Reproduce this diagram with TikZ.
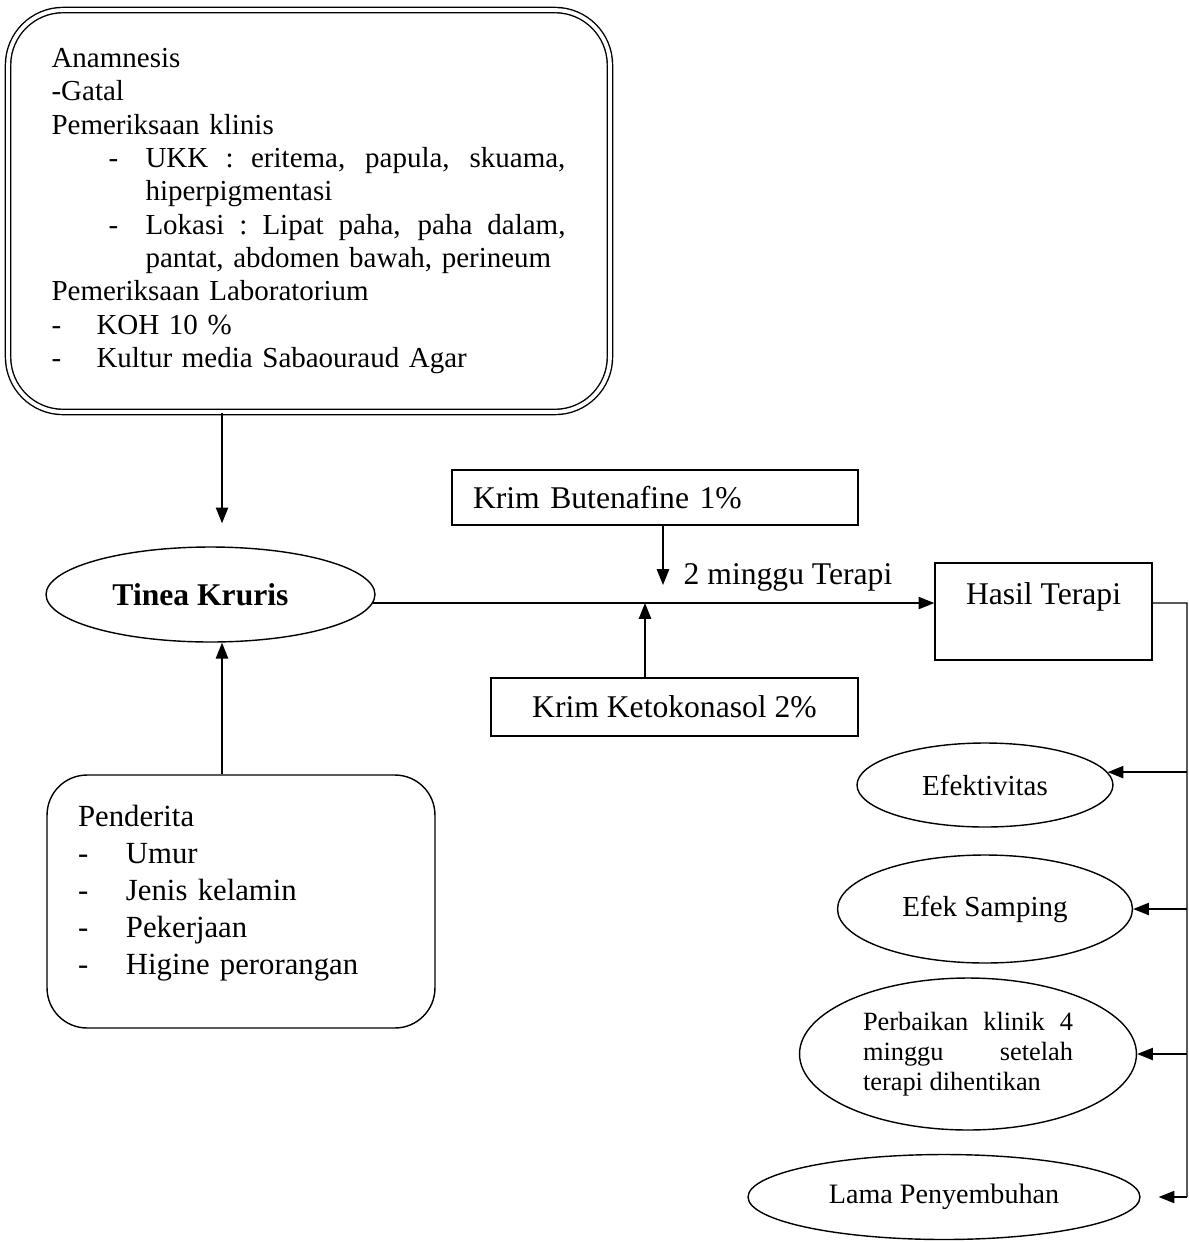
\documentclass[tikz,border=0pt]{standalone}
\usepackage{fontspec}
\setmainfont{Liberation Serif}
\usetikzlibrary{shapes.geometric,arrows.meta}

\newcommand{\fs}[2]{\fontsize{#1}{#2}\selectfont}
\newcommand{\spread}[2]{\makebox[#1][s]{\spaceskip=.25em plus 1fil\xspaceskip=.25em plus 1fil\relax #2}}
\newcommand{\ukkitem}[1]{\hspace*{1.14cm}\makebox[0.74cm][l]{-}\spread{8.4cm}{#1}}
\newcommand{\ukkcont}[1]{\hspace*{1.88cm}#1}
\newcommand{\labitem}[1]{\makebox[0.9cm][l]{-}#1}
\newcommand{\penitem}[1]{\makebox[0.96cm][l]{-}#1}

\begin{document}
\begin{tikzpicture}[x=0.02cm, y=-0.02cm, line width=0.8pt]
    \tikzset{%
      arr/.style={-{Triangle[length=9pt, width=7pt]}},
      rbox/.style={draw, rectangle, inner sep=0pt},
      oval/.style={draw, ellipse, inner sep=0pt, align=center},
      cure/.style={oval, font=\fs{16.5}{19}},
    }
    \useasboundingbox (0,0) rectangle (1189,1242);

    % diagnosis
    \node[draw, double, double distance=2.2pt, rounded corners=1.1cm,
      minimum width=12.04cm, minimum height=8.04cm, inner xsep=0.87cm,
      text width=10.3cm, align=left, font=\fs{16.5}{19}] (anam) at (309,211) {%
      Anamnesis\\
      -Gatal\\
      Pemeriksaan klinis\\
      \ukkitem{UKK : eritema, papula, skuama,}\\
      \ukkcont{hiperpigmentasi}\\
      \ukkitem{Lokasi : Lipat paha, paha dalam,}\\
      \ukkcont{pantat, abdomen bawah, perineum}\\
      Pemeriksaan Laboratorium\\
      \labitem{KOH 10 \%}\\
      \labitem{Kultur media Sabaouraud Agar}};

    \node[oval, minimum width=6.58cm, minimum height=1.9cm,
      font=\bfseries\fs{18}{21}] (tinea) at (210.5,594.5)
      {Tinea Kruris\hspace*{0.4cm}};

    \node[draw, rounded corners=0.8cm, minimum width=7.76cm, minimum height=5.06cm,
      inner xsep=0.62cm, text width=6.52cm, align=left,
      font=\fs{17.5}{21}] (pend) at (241,901.5) {%
      Penderita\\
      \penitem{Umur}\\
      \penitem{Jenis kelamin}\\
      \penitem{Pekerjaan}\\
      \penitem{Higine perorangan}\\[-0.26cm]\mbox{}};

    \draw[arr, shorten >=0.46cm] ([xshift=-1.74cm]anam.south)
      -- ([xshift=-1.74cm]anam.south |- tinea.north);
    \draw[arr] ([xshift=-0.38cm]pend.north)
      -- ([xshift=-0.38cm]pend.north |- tinea.south);

    % terapi
    \node[rbox, minimum width=8.12cm, minimum height=1.1cm, inner xsep=0.42cm,
      text width=7.28cm, align=left, font=\fs{18}{21}] (bute) at (655,497.5)
      {Krim Butenafine 1\%};
    \node[rbox, minimum width=7.34cm, minimum height=1.16cm,
      font=\fs{18}{21}] (keto) at (674.5,707) {Krim Ketokonasol 2\%};
    \node[anchor=west, inner sep=0pt, font=\fs{18}{21}] (lbl) at (683,577)
      {2 minggu Terapi};
    \node[rbox, minimum width=4.34cm, minimum height=1.94cm, align=center,
      font=\fs{18}{20}] (hasil) at (1043.5,611.5) {Hasil Terapi\\\mbox{}};

    \coordinate (tip) at (663,585);
    \coordinate (mid) at (645,603);
    \draw[arr] (bute.south -| tip) -- (tip);
    \draw[arr] (keto.north -| mid) -- (mid);
    \draw[arr] (tinea.-3) -- (tinea.-3 -| hasil.west);

    % hasil
    \node[cure, minimum width=5.12cm, minimum height=1.68cm] (efek) at (985,785)
      {Efektivitas};
    \node[cure, minimum width=5.9cm, minimum height=2.16cm] (samp) at (985,909)
      {Efek Samping};
    \node[oval, minimum width=6.74cm, minimum height=3.04cm, font=\fs{15}{17}]
      (perb) at (968,1054) {%
      \spread{4.2cm}{Perbaikan klinik 4}\\
      \spread{4.2cm}{minggu setelah}\\
      \makebox[4.2cm][l]{terapi dihentikan}};
    \node[oval, minimum width=7.84cm, minimum height=1.7cm, font=\fs{16}{19}]
      (lama) at (944,1197) {Lama Penyembuhan};

    \coordinate (rtop) at (1187,603);
    \draw (tinea.-3 -| hasil.east) -- (rtop) -- (rtop |- lama.east);
    \draw[arr] (efek.6 -| rtop) -- (efek.6);
    \draw[arr] (samp.east -| rtop) -- (samp.east);
    \draw[arr] (perb.east -| rtop) -- (perb.east);
    \draw[arr, shorten >=0.36cm] (lama.east -| rtop) -- (lama.east);
\end{tikzpicture}
\end{document}
